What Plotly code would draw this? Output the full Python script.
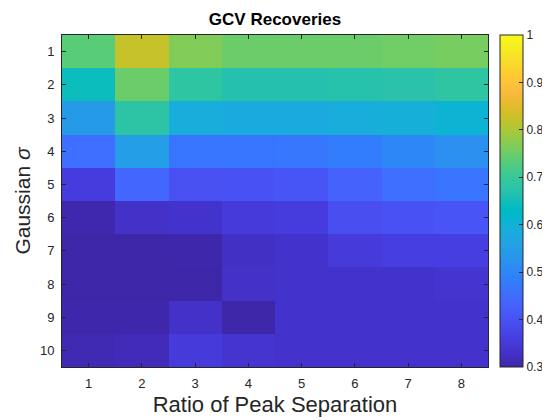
import plotly.graph_objects as go

ratios = [1, 2, 3, 4, 5, 6, 7, 8]
sigmas = [1, 2, 3, 4, 5, 6, 7, 8, 9, 10]
recovery = [
    [0.735, 0.822, 0.767, 0.750, 0.750, 0.750, 0.755, 0.760],
    [0.645, 0.750, 0.683, 0.667, 0.667, 0.670, 0.675, 0.685],
    [0.545, 0.680, 0.588, 0.580, 0.580, 0.588, 0.595, 0.605],
    [0.455, 0.550, 0.467, 0.467, 0.470, 0.480, 0.500, 0.520],
    [0.356, 0.440, 0.395, 0.400, 0.405, 0.430, 0.455, 0.465],
    [0.305, 0.330, 0.335, 0.350, 0.355, 0.390, 0.400, 0.403],
    [0.300, 0.300, 0.302, 0.325, 0.335, 0.350, 0.360, 0.360],
    [0.300, 0.300, 0.300, 0.330, 0.335, 0.335, 0.335, 0.340],
    [0.302, 0.302, 0.330, 0.300, 0.335, 0.335, 0.335, 0.335],
    [0.310, 0.315, 0.350, 0.340, 0.333, 0.333, 0.333, 0.333],
]
cbar_ticks = [0.3, 0.4, 0.5, 0.6, 0.7, 0.8, 0.9, 1.0]
cbar_labels = ["0.3", "0.4", "0.5", "0.6", "0.7", "0.8", "0.9", "1"]

parula = [
    (0.2422, 0.1504, 0.6603), (0.2504, 0.1650, 0.7076), (0.2578, 0.1818, 0.7511),
    (0.2647, 0.1978, 0.7952), (0.2706, 0.2147, 0.8364), (0.2751, 0.2342, 0.8710),
    (0.2783, 0.2559, 0.8991), (0.2803, 0.2782, 0.9221), (0.2813, 0.3006, 0.9414),
    (0.2810, 0.3228, 0.9579), (0.2795, 0.3447, 0.9717), (0.2760, 0.3667, 0.9829),
    (0.2699, 0.3892, 0.9906), (0.2602, 0.4123, 0.9952), (0.2440, 0.4358, 0.9988),
    (0.2206, 0.4603, 0.9973), (0.1963, 0.4847, 0.9892), (0.1834, 0.5074, 0.9798),
    (0.1786, 0.5289, 0.9682), (0.1764, 0.5499, 0.9520), (0.1687, 0.5703, 0.9359),
    (0.1540, 0.5902, 0.9218), (0.1460, 0.6091, 0.9079), (0.1380, 0.6276, 0.8973),
    (0.1248, 0.6459, 0.8883), (0.1113, 0.6635, 0.8763), (0.0952, 0.6798, 0.8598),
    (0.0689, 0.6948, 0.8394), (0.0297, 0.7082, 0.8163), (0.0036, 0.7203, 0.7917),
    (0.0067, 0.7312, 0.7660), (0.0433, 0.7411, 0.7394), (0.0964, 0.7500, 0.7120),
    (0.1408, 0.7584, 0.6842), (0.1717, 0.7670, 0.6554), (0.1938, 0.7758, 0.6251),
    (0.2161, 0.7843, 0.5923), (0.2470, 0.7918, 0.5567), (0.2906, 0.7973, 0.5188),
    (0.3406, 0.8008, 0.4789), (0.3909, 0.8029, 0.4354), (0.4456, 0.8024, 0.3909),
    (0.5044, 0.7993, 0.3480), (0.5616, 0.7942, 0.3045), (0.6174, 0.7876, 0.2612),
    (0.6720, 0.7793, 0.2227), (0.7242, 0.7698, 0.1910), (0.7738, 0.7598, 0.1646),
    (0.8203, 0.7498, 0.1535), (0.8634, 0.7406, 0.1596), (0.9035, 0.7330, 0.1774),
    (0.9393, 0.7288, 0.2100), (0.9728, 0.7298, 0.2394), (0.9956, 0.7434, 0.2371),
    (0.9970, 0.7659, 0.2199), (0.9952, 0.7893, 0.2028), (0.9892, 0.8136, 0.1885),
    (0.9786, 0.8386, 0.1766), (0.9676, 0.8639, 0.1643), (0.9610, 0.8890, 0.1537),
    (0.9597, 0.9135, 0.1423), (0.9628, 0.9373, 0.1265), (0.9691, 0.9606, 0.1064),
    (0.9769, 0.9839, 0.0805),
]
n = len(parula)
colorscale = [[i / (n - 1), "rgb(%d,%d,%d)" % tuple(round(c * 255) for c in col)]
              for i, col in enumerate(parula)]

FONT = "Liberation Sans, Arial, Helvetica, sans-serif"
TXT = "#262626"

fig = go.Figure(go.Heatmap(
    x=ratios, y=sigmas, z=recovery,
    colorscale=colorscale, zmin=0.3, zmax=1.0,
    colorbar=dict(
        x=1.028, xanchor="left", xref="paper",
        y=0.5, yanchor="middle", len=1.0, lenmode="fraction",
        thickness=23, thicknessmode="pixels",
        tickvals=cbar_ticks, ticktext=cbar_labels,
        ticks="inside", ticklen=4, tickcolor=TXT,
        tickfont=dict(family=FONT, size=12, color=TXT),
        outlinecolor=TXT, outlinewidth=1, xpad=0, ypad=0,
    ),
))

# the page body adds an 8 px offset, so the margins are set 8 px tighter on top/left
fig.update_layout(
    width=550, height=420,
    margin=dict(l=54, r=70, t=27, b=61, autoexpand=False),
    paper_bgcolor="white", plot_bgcolor="white",
    font=dict(family=FONT, color=TXT),
    title=dict(text="<b>GCV Recoveries</b>", x=0.5, xref="paper", xanchor="center",
               y=0.9726, yanchor="middle",
               font=dict(family=FONT, size=17, color="black")),
    xaxis=dict(
        title=dict(text="Ratio of Peak Separation", font=dict(size=22, color=TXT), standoff=7),
        tickvals=ratios, ticks="inside", ticklen=4, tickcolor=TXT,
        tickfont=dict(size=13, color=TXT), ticklabelstandoff=4,
        showline=True, linecolor=TXT, linewidth=1, mirror="ticks",
        showgrid=False, zeroline=False, range=[0.5, 8.5],
    ),
    yaxis=dict(
        title=dict(text="Gaussian <i>σ</i>", font=dict(size=21, color=TXT), standoff=3),
        tickvals=sigmas, ticks="inside", ticklen=4, tickcolor=TXT,
        tickfont=dict(size=13, color=TXT), ticklabelstandoff=4,
        showline=True, linecolor=TXT, linewidth=1, mirror="ticks",
        showgrid=False, zeroline=False, range=[10.5, 0.5],
    ),
)

fig.write_html("out.html")
